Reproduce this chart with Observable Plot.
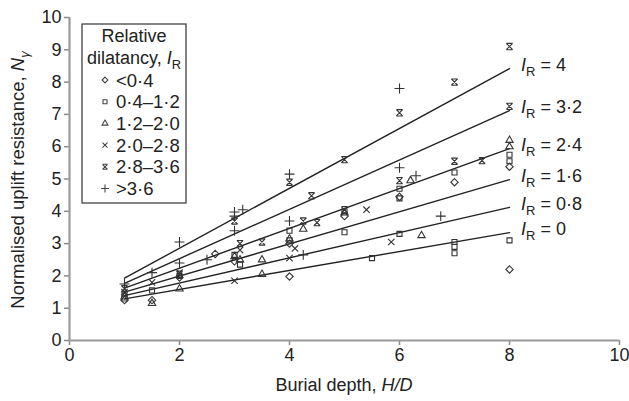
<!DOCTYPE html>
<html><head><meta charset="utf-8">
<script src="https://cdn.jsdelivr.net/npm/d3@7"></script>
<script src="https://cdn.jsdelivr.net/npm/@observablehq/plot@0.6"></script>
<style>body{margin:0;background:#fff} svg{display:block}</style>
</head><body><div id="chart"></div>
<script>
// ---- data ----
const xTicks = [0, 2, 4, 6, 8, 10];
const yTicks = [0, 1, 2, 3, 4, 5, 6, 7, 8, 9, 10];
const categories = ["<0·4", "0·4–1·2", "1·2–2·0", "2·0–2·8", "2·8–3·6", ">3·6"];

const lineLabels = ["4", "3·2", "2·4", "1·6", "0·8", "0"];
const lineX = [1, 8];
const lineStartY = [1.93, 1.77, 1.62, 1.50, 1.39, 1.29];
const lineEndY = [8.42, 7.12, 5.94, 4.98, 4.12, 3.34];

const diamondX = [1, 1.5, 2, 2.65, 3, 4, 4, 5, 6, 7, 8, 8];
const diamondY = [1.25, 1.25, 1.95, 2.68, 2.45, 1.98, 3.0, 3.85, 4.45, 4.9, 5.38, 2.2];
const squareX = [1, 1, 1.5, 2, 3, 3.1, 4, 4, 5, 5, 5.5, 6, 6, 6, 7, 7, 7, 7, 8, 8, 8];
const squareY = [1.45, 1.3, 1.55, 2.0, 2.65, 2.35, 3.4, 3.1, 3.35, 4.0, 2.55, 3.3, 4.7, 4.4, 2.7, 2.9, 3.05, 5.2, 5.55, 5.75, 3.1];
const triangleX = [1, 1.5, 2, 3, 3.1, 3.5, 3.5, 4, 4.25, 5, 6.2, 6.4, 8, 8];
const triangleY = [1.35, 1.15, 1.6, 2.6, 2.5, 2.05, 2.5, 3.15, 3.45, 3.95, 4.95, 3.25, 6.2, 6.0];
const crossX = [1, 1.5, 2, 3, 3.1, 4, 4.1, 5.4, 5.85];
const crossY = [1.5, 1.8, 2.1, 1.85, 2.8, 2.55, 2.85, 4.05, 3.05];
const starX = [1, 2, 3, 3.1, 3.5, 4, 4.25, 4.5, 4.4, 5, 5, 6, 6, 7, 7, 7.5, 8, 8];
const starY = [1.6, 2.05, 3.7, 3.0, 3.05, 4.9, 3.7, 3.65, 4.48, 5.6, 4.05, 7.05, 4.95, 8.0, 5.55, 5.57, 9.1, 7.25];
const plusX = [1, 1.5, 2, 2, 2.5, 3, 3, 3, 3.15, 4, 4, 4.25, 6, 6, 6.3, 6.75];
const plusY = [1.75, 2.1, 3.05, 2.4, 2.5, 3.98, 3.85, 3.4, 4.05, 5.15, 3.7, 2.65, 7.8, 5.35, 5.1, 3.85];

// ---- build ----
const hourglass = {
  draw(ctx, size) {
    const r = Math.sqrt(size / Math.PI) * 0.9;
    ctx.moveTo(-r, -r); ctx.lineTo(r, r);
    ctx.moveTo(r, -r); ctx.lineTo(-r, r);
    ctx.moveTo(-r, -r); ctx.lineTo(r, -r);
    ctx.moveTo(-r, r); ctx.lineTo(r, r);
  }
};
const series = [
  {xs: diamondX, ys: diamondY, symbol: "diamond2", r: 3.3},
  {xs: squareX, ys: squareY, symbol: "square2", r: 3.2},
  {xs: triangleX, ys: triangleY, symbol: "triangle2", r: 3.5},
  {xs: crossX, ys: crossY, symbol: "times", r: 3.0},
  {xs: starX, ys: starY, symbol: hourglass, r: 3.5},
  {xs: plusX, ys: plusY, symbol: "plus", r: 3.3}
];
const lines = lineLabels.flatMap((lab, i) => [
  {id: i, x: lineX[0], y: lineStartY[i]},
  {id: i, x: lineX[1], y: lineEndY[i]}
]);

const FONT = "'Liberation Sans', Arial, Helvetica, sans-serif";
const TXT = "#222";

const marks = [
  Plot.line(lines, {x: "x", y: "y", z: "id", stroke: "#222", strokeWidth: 1.4}),
  ...series.map(s => Plot.dot(s.xs.map((x, j) => ({x, y: s.ys[j]})),
    {x: "x", y: "y", symbol: s.symbol, r: s.r, stroke: "#333", strokeWidth: 1.1, fill: "none"})),
  Plot.ruleY([0], {stroke: "#9a9a9a", strokeWidth: 2.2}),
  Plot.ruleX([0], {stroke: "#9a9a9a", strokeWidth: 2.2})
];

const plot = Plot.plot({
  width: 629, height: 401,
  marginLeft: 69, marginRight: 10, marginTop: 17, marginBottom: 61,
  style: {fontFamily: FONT, fontSize: "18px", color: TXT, background: "#fff", overflow: "visible"},
  x: {domain: [0, 10], ticks: xTicks, tickSize: 5, tickPadding: 3, label: null},
  y: {domain: [0, 10], ticks: yTicks, tickSize: 5, tickPadding: 3, label: null},
  marks
});
document.getElementById("chart").appendChild(plot);

// grey tick lines
d3.select(plot).selectAll("g[aria-label$='axis tick'] path, g[aria-label$='axis'] .tick line, g[aria-label$='axis'] path")
  .attr("stroke", "#8a8a8a").attr("stroke-width", 1.5);

const sx = plot.scale("x"), sy = plot.scale("y");
const X = v => sx.apply(v), Y = v => sy.apply(v);
const svg = d3.select(plot);
const g = svg.append("g").attr("font-family", FONT).attr("fill", TXT).attr("text-anchor", "start");

function addIR(sel, suffix, size) {
  sel.append("tspan").attr("font-style", "italic").text("I");
  sel.append("tspan").attr("font-size", size * 0.72).attr("dy", size * 0.28).text("R");
  if (suffix) sel.append("tspan").attr("dy", -size * 0.28).text(suffix);
}

// line labels
lineLabels.forEach((lab, i) => {
  const t = g.append("text").attr("x", X(lineX[1]) + 12).attr("y", Y(lineEndY[i]) + 3)
    .attr("text-anchor", "start").attr("font-size", 18);
  addIR(t, " = " + lab, 18);
});

// axis titles
const xl = g.append("text").attr("x", 344).attr("y", 391).attr("text-anchor", "middle").attr("font-size", 18);
xl.append("tspan").text("Burial depth, ");
xl.append("tspan").attr("font-style", "italic").text("H/D");

const yl = g.append("text").attr("transform", "translate(24,180) rotate(-90)").attr("text-anchor", "middle").attr("font-size", 18.5);
yl.append("tspan").text("Normalised uplift resistance, ");
yl.append("tspan").attr("font-style", "italic").text("N");
yl.append("tspan").attr("font-style", "italic").attr("font-size", 13).attr("dy", 5).text("γ");

// legend
const L = g.append("g");
L.append("rect").attr("x", 82).attr("y", 24).attr("width", 104).attr("height", 179)
  .attr("fill", "#fff").attr("stroke", "#333").attr("stroke-width", 1.2);
L.append("text").attr("x", 134).attr("y", 42).attr("text-anchor", "middle").attr("font-size", 18).text("Relative");
const lt = L.append("text").attr("x", 134).attr("y", 64).attr("text-anchor", "middle").attr("font-size", 18);
lt.append("tspan").text("dilatancy, ");
addIR(lt, "", 18);
const symType = s => typeof s === "string"
  ? ({diamond2: d3.symbolDiamond2, square2: d3.symbolSquare2, triangle2: d3.symbolTriangle2, times: d3.symbolTimes, plus: d3.symbolPlus})[s]
  : s;
categories.forEach((c, i) => {
  const cy = 80 + i * 21.7;
  const s = series[i];
  const rr = s.r * 0.8;
  L.append("path").attr("transform", `translate(105,${cy})`)
    .attr("d", d3.symbol(symType(s.symbol), rr * rr * Math.PI)())
    .attr("fill", "none").attr("stroke", "#444").attr("stroke-width", 1.1);
  L.append("text").attr("x", 116).attr("y", cy + 6.5).attr("text-anchor", "start").attr("font-size", 18.5).text(c);
});
</script>
</body></html>
